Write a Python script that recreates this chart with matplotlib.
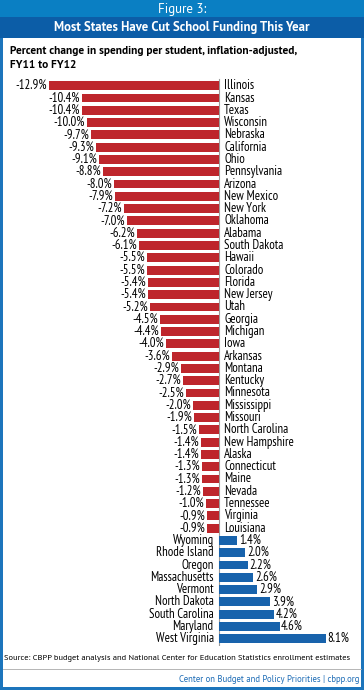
import matplotlib
matplotlib.use("Agg")
import matplotlib.pyplot as plt
from matplotlib.patches import Rectangle

states = ["Illinois", "Kansas", "Texas", "Wisconsin", "Nebraska", "California", "Ohio",
          "Pennsylvania", "Arizona", "New Mexico", "New York", "Oklahoma", "Alabama",
          "South Dakota", "Hawaii", "Colorado", "Florida", "New Jersey", "Utah", "Georgia",
          "Michigan", "Iowa", "Arkansas", "Montana", "Kentucky", "Minnesota", "Mississippi",
          "Missouri", "North Carolina", "New Hampshire", "Alaska", "Connecticut", "Maine",
          "Nevada", "Tennessee", "Virginia", "Louisiana", "Wyoming", "Rhode Island", "Oregon",
          "Massachusetts", "Vermont", "North Dakota", "South Carolina", "Maryland",
          "West Virginia"]
change = [-12.9, -10.4, -10.4, -10.0, -9.7, -9.3, -9.1, -8.8, -8.0, -7.9, -7.2, -7.0, -6.2,
          -6.1, -5.5, -5.5, -5.4, -5.4, -5.2, -4.5, -4.4, -4.0, -3.6, -2.9, -2.7, -2.5, -2.0,
          -1.9, -1.5, -1.4, -1.4, -1.3, -1.3, -1.2, -1.0, -0.9, -0.9, 1.4, 2.0, 2.2, 2.6, 2.9,
          3.9, 4.2, 4.6, 8.1]

RED = "#BE262C"
BLUE = "#1863AC"
W, H = 364, 690
NARROW = ["PT Sans Narrow", "Roboto Condensed", "DejaVu Sans"]
SANS = ["PT Sans", "Open Sans", "DejaVu Sans"]
plt.rcParams["font.family"] = SANS

fig = plt.figure(figsize=(W / 100, H / 100), dpi=100)

def px(x, y):
    return x / W, 1 - y / H

def rect(x0, y0, x1, y1, color):
    fig.patches.append(Rectangle((x0 / W, 1 - y1 / H), (x1 - x0) / W, (y1 - y0) / H,
                                 transform=fig.transFigure, color=color, lw=0))

# frame and header bands
rect(0, 0, W, H, "#1C75BC")
rect(3, 38, W - 3, H - 3, "white")
rect(0, 0, W, 17, "#0A7FC3")
rect(0, 17, W, 38, "#0C5DA7")
fig.text(*px(W / 2, 9), "Figure 3:", color="white", ha="center", va="center", fontsize=9.3)
fig.text(*px(W / 2, 27.5), "Most States Have Cut School Funding This Year", color="white",
         ha="center", va="center", fontsize=9.2, fontweight="bold")
fig.text(*px(10, 51), "Percent change in spending per student, inflation-adjusted,",
         ha="left", va="center", fontsize=8.2, fontweight="bold")
fig.text(*px(10, 65), "FY11 to FY12", ha="left", va="center", fontsize=8.2, fontweight="bold")

# bars
scale = 13.18
ax = fig.add_axes([0, 1 - 646 / H, 1, 568 / H])
ax.set_zorder(2)
ax.set_xlim(-219 / scale, (W - 219) / scale)
ax.set_ylim(45.59, -0.63)
ax.axis("off")
colors = [RED if v < 0 else BLUE for v in change]
ax.barh(range(len(states)), change, height=0.72, color=colors, zorder=2)
ax.plot([0, 0], [-0.55, len(states) - 0.45], color="#9A9A9A", lw=0.8, zorder=1)
fs = 9.2
for i, (s, v) in enumerate(zip(states, change)):
    if v < 0:
        ax.text(v - 0.15, i, f"{v:.1f}%", ha="right", va="center", fontsize=fs, family=NARROW)
        ax.text(0.4, i, s, ha="left", va="center", fontsize=fs, family=NARROW)
    else:
        ax.text(v + 0.12, i, f"{v:.1f}%", ha="left", va="center", fontsize=fs, family=NARROW)
        ax.text(-0.4, i, s, ha="right", va="center", fontsize=fs, family=NARROW)

# footer
fig.text(*px(4, 659), "Source: CBPP budget analysis and National Center for Education Statistics enrollment estimates",
         ha="left", va="center", fontsize=6.1)
fig.lines.append(plt.Line2D([3 / W, (W - 3) / W], [1 - 669 / H, 1 - 669 / H],
                            transform=fig.transFigure, color="#AAAAAA", lw=0.6))
fig.text(*px(359, 679), "Center on Budget and Policy Priorities | cbpp.org", color="#1C6BB5",
         ha="right", va="center", fontsize=6.3)

fig.savefig("out.png", dpi=100)
